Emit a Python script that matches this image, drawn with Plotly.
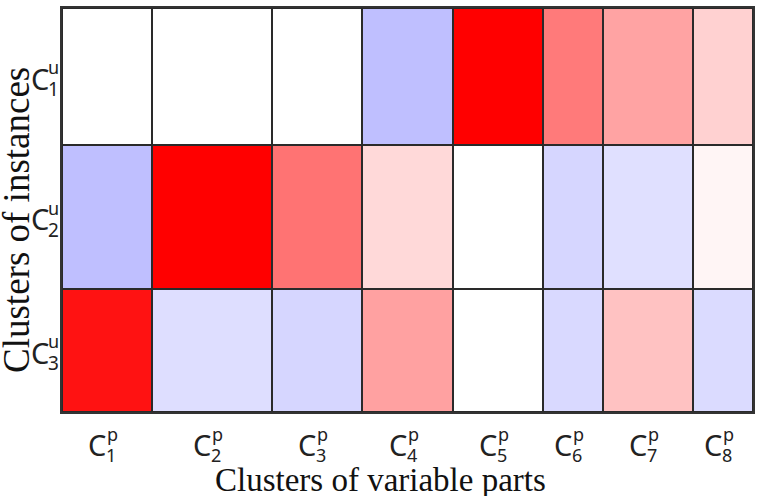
import plotly.graph_objects as go
import numpy as np

# ---- data ----
col_labels = ["1", "2", "3", "4", "5", "6", "7", "8"]
row_labels = ["1", "2", "3"]
col_sizes = [3, 4, 3, 3, 3, 2, 3, 2]
row_sizes = [10, 10.5, 9]
row1 = [0.0, 0.0, 0.0, -0.25, 1.0, 0.52, 0.36, 0.18]
row2 = [-0.25, 1.0, 0.55, 0.15, 0.0, -0.16, -0.12, 0.04]
row3 = [0.93, -0.13, -0.16, 0.37, 0.0, -0.15, 0.24, -0.14]
x_title = "Clusters of variable parts"
y_title = "Clusters of instances"

z = [row1, row2, row3]
x_edges = np.concatenate([[0], np.cumsum(col_sizes)]).tolist()
y_edges = np.concatenate([[0], np.cumsum(row_sizes)]).tolist()
x_centers = [(x_edges[i] + x_edges[i + 1]) / 2 for i in range(len(col_sizes))]
y_centers = [(y_edges[i] + y_edges[i + 1]) / 2 for i in range(len(row_sizes))]

fig = go.Figure(go.Heatmap(
    z=z, x=x_edges, y=y_edges,
    colorscale=[[0, "rgb(0,0,255)"], [0.5, "rgb(255,255,255)"], [1, "rgb(255,0,0)"]],
    zmin=-1, zmax=1, showscale=False, xgap=2, ygap=2, hoverinfo="skip",
))

SANS = "Noto Sans"
SERIF = "Liberation Serif"
ann = []
for xc, lab in zip(x_centers, col_labels):
    ann.append(dict(x=xc, y=0, xref="x", yref="paper", text="C", showarrow=False,
                    xanchor="right", yanchor="middle", xshift=1, yshift=-32,
                    font=dict(family=SANS, size=29, color="#222")))
    ann.append(dict(x=xc, y=0, xref="x", yref="paper", text="p", showarrow=False,
                    xanchor="left", yanchor="middle", xshift=-2, yshift=-22,
                    font=dict(family=SANS, size=18, color="#222")))
    ann.append(dict(x=xc, y=0, xref="x", yref="paper", text=lab, showarrow=False,
                    xanchor="left", yanchor="middle", xshift=-3, yshift=-43,
                    font=dict(family=SANS, size=18, color="#222")))
for yc, lab in zip(y_centers, row_labels):
    ann.append(dict(x=0, y=yc, xref="paper", yref="y", text="C", showarrow=False,
                    xanchor="right", yanchor="middle", xshift=-11, yshift=-2,
                    font=dict(family=SANS, size=29, color="#222")))
    ann.append(dict(x=0, y=yc, xref="paper", yref="y", text="u", showarrow=False,
                    xanchor="right", yanchor="middle", xshift=-1, yshift=9,
                    font=dict(family=SANS, size=18, color="#222")))
    ann.append(dict(x=0, y=yc, xref="paper", yref="y", text=lab, showarrow=False,
                    xanchor="right", yanchor="middle", xshift=-1, yshift=-13,
                    font=dict(family=SANS, size=19, color="#222")))

ann.append(dict(x=0.5, y=0, xref="paper", yref="paper", text=x_title, showarrow=False,
                xanchor="center", yanchor="middle", xshift=-27, yshift=-68,
                font=dict(family=SERIF, size=33, color="#111")))
ann.append(dict(x=0, y=0.5, xref="paper", yref="paper", text=y_title, showarrow=False,
                textangle=-90, xanchor="center", yanchor="middle", xshift=-46, yshift=-10,
                font=dict(family=SERIF, size=37, color="#111")))

fig.update_layout(
    width=761, height=496,
    margin=dict(l=62, r=7, t=6, b=84),
    paper_bgcolor="white", plot_bgcolor="#2a2a2a",
    annotations=ann,
    xaxis=dict(range=[0, x_edges[-1]], showticklabels=False, showgrid=False, zeroline=False,
               ticks="", showline=True, mirror=True, linecolor="#333", linewidth=2),
    yaxis=dict(range=[y_edges[-1], 0], showticklabels=False, showgrid=False, zeroline=False,
               ticks="", showline=True, mirror=True, linecolor="#333", linewidth=2),
)

fig.write_html("out.html")
